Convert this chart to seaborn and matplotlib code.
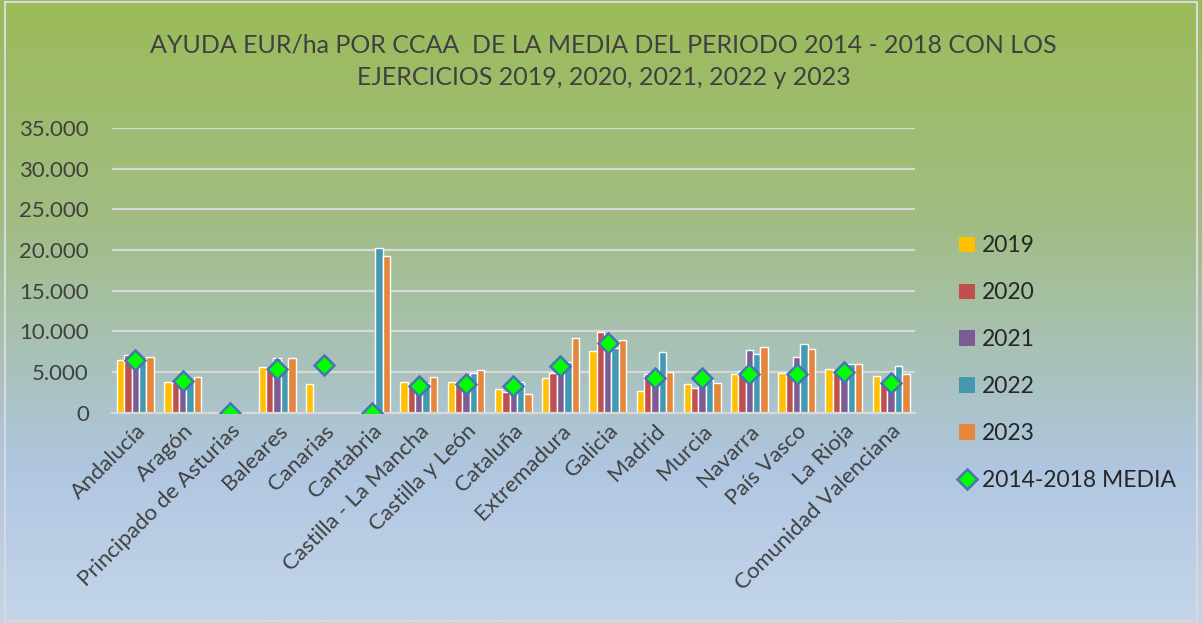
import numpy as np
import pandas as pd
import matplotlib
matplotlib.use("Agg")
import matplotlib.pyplot as plt
import matplotlib.ticker as mticker
from matplotlib.colors import LinearSegmentedColormap
from matplotlib.patches import Patch, Rectangle
from matplotlib.lines import Line2D
import seaborn as sns

# datos (EUR/ha)
ccaa = ["Andalucía", "Aragón", "Principado de Asturias", "Baleares", "Canarias",
        "Cantabria", "Castilla - La Mancha", "Castilla y León", "Cataluña",
        "Extremadura", "Galicia", "Madrid", "Murcia", "Navarra", "País Vasco",
        "La Rioja", "Comunidad Valenciana"]
y2019 = [6500, 3820, 0, 5610, 3540, 0, 3820, 3820, 2890, 4270, 7640, 2640, 3540, 4720, 4920, 5370, 4550]
y2020 = [7030, 3700, 0, 5300, 0, 0, 3300, 3800, 2600, 4840, 9960, 4760, 3010, 5160, 4900, 5300, 3540]
y2021 = [7000, 3500, 0, 6670, 0, 0, 3000, 3400, 2700, 5500, 9000, 4500, 4000, 7720, 6790, 5500, 3500]
y2022 = [6300, 3900, 0, 5490, 0, 20250, 3700, 4920, 3820, 6180, 7890, 7440, 3980, 7190, 8500, 6020, 5690]
y2023 = [6790, 4350, 0, 6750, 0, 19270, 4390, 5280, 2280, 9230, 8980, 5000, 3700, 8130, 7850, 6020, 4800]
media = [6510, 3860, 0, 5370, 5900, 0, 3290, 3580, 3330, 5730, 8620, 4270, 4270, 4800, 4800, 5040, 3660]

years = ["2019", "2020", "2021", "2022", "2023"]
colores = ["#FFC000", "#C0504D", "#7B5C94", "#4499B2", "#E4873D"]

df = pd.DataFrame({"CCAA": ccaa, "2019": y2019, "2020": y2020, "2021": y2021,
                   "2022": y2022, "2023": y2023})
df_long = df.melt(id_vars="CCAA", var_name="Año", value_name="EUR/ha")

sns.set_style("white")
plt.rcParams["font.family"] = ["Lato", "DejaVu Sans"]

fig = plt.figure(figsize=(12.02, 6.23), dpi=100)

# fondo degradado verde -> azul
bg = fig.add_axes([0, 0, 1, 1], zorder=-10)
grad = LinearSegmentedColormap.from_list(
    "fondo", [(0.0, "#9BBB59"), (0.35, "#A1BD82"), (0.6, "#A9C2BE"),
              (0.75, "#B0C6E0"), (1.0, "#C4D5EA")])
bg.imshow(np.linspace(0, 1, 256).reshape(-1, 1), aspect="auto", cmap=grad,
          extent=[0, 1, 0, 1])
bg.add_patch(Rectangle((0.004, 0.004), 0.992, 0.992, fill=False,
                       edgecolor="#D9D9D9", linewidth=1.5))
bg.set_xlim(0, 1)
bg.set_ylim(0, 1)
bg.axis("off")

ax = fig.add_axes([0.093, 0.3376, 0.668, 0.457])
ax.patch.set_alpha(0)

sns.barplot(data=df_long, x="CCAA", y="EUR/ha", hue="Año", palette=colores,
            width=0.78, gap=0, saturation=1, legend=False, ax=ax, zorder=2)
sns.pointplot(x=ccaa, y=media, color="#00FF00", marker="D", linestyle="none",
              markersize=10, markeredgecolor="#4A74B0", markeredgewidth=1.8,
              errorbar=None, ax=ax, zorder=5)

ax.set_ylim(0, 35000)
ax.set_xlim(-0.5, len(ccaa) - 0.5)
ax.yaxis.set_major_locator(mticker.MultipleLocator(5000))
ax.yaxis.set_major_formatter(mticker.FuncFormatter(lambda v, p: f"{v:,.0f}".replace(",", ".")))
ax.grid(axis="y", color="#D9D9D9", linewidth=1.6, zorder=0)
ax.set_axisbelow(True)
for s in ["top", "right", "left"]:
    ax.spines[s].set_visible(False)
ax.spines["bottom"].set_color("#D9D9D9")
ax.spines["bottom"].set_linewidth(1.6)
ax.set_xlabel("")
ax.set_ylabel("")
ax.tick_params(axis="y", length=0, pad=16.5, labelsize=16, labelcolor="#404040")
ax.tick_params(axis="x", length=0, pad=6, labelsize=16, labelcolor="#404040")
plt.setp(ax.get_xticklabels(), rotation=45, ha="right", rotation_mode="anchor")

fig.text(0.502, 0.928, "AYUDA EUR/ha POR CCAA  DE LA MEDIA DEL PERIODO 2014 - 2018 CON LOS",
         ha="center", va="center", fontsize=18, color="#404040")
fig.text(0.502, 0.875, "EJERCICIOS 2019, 2020, 2021, 2022 y 2023",
         ha="center", va="center", fontsize=18, color="#404040")

handles = [Patch(facecolor=c, edgecolor="none") for c in colores]
handles.append(Line2D([], [], marker="D", linestyle="none", color="#00FF00",
                      markersize=10, markeredgecolor="#4A74B0", markeredgewidth=1.8))
fig.legend(handles, years + ["2014-2018 MEDIA"], loc="center left",
           bbox_to_anchor=(0.781, 0.417), frameon=False, fontsize=16.5,
           handlelength=0.67, handleheight=0.67, handletextpad=0.3,
           labelspacing=1.13)

fig.savefig("out.png", dpi=100)
